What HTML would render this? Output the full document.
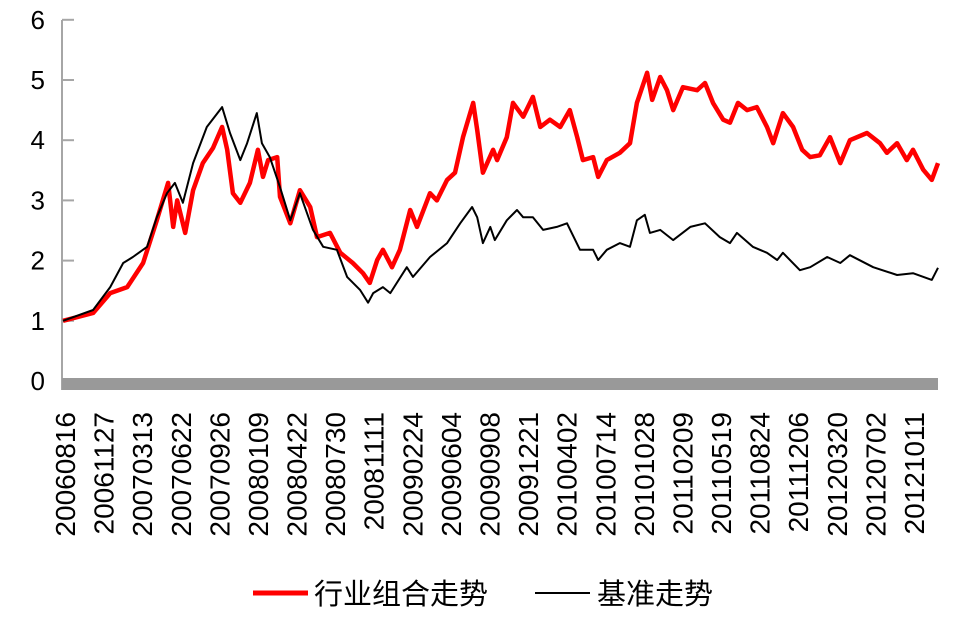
<!DOCTYPE html>
<html><head><meta charset="utf-8"><style>
html,body{margin:0;padding:0;background:#fff;}
svg{display:block;font-family:"Liberation Sans","Noto Sans CJK SC",sans-serif;}
</style></head><body>
<svg id="chart" width="960" height="618" viewBox="0 0 960 618" xmlns="http://www.w3.org/2000/svg">
<g id="axes"></g>
<g id="series"></g>
<g>
  <line x1="253" y1="593" x2="308" y2="593" stroke="#ff0000" stroke-width="5"/>
  <text x="314" y="604" font-size="29" fill="#000">行业组合走势</text>
  <line x1="535" y1="593" x2="590" y2="593" stroke="#000" stroke-width="2"/>
  <text x="597" y="604" font-size="29" fill="#000">基准走势</text>
</g>
</svg>
<script>
const xTickLabels = ["20060816","20061127","20070313","20070622","20070926","20080109","20080422","20080730","20081111","20090224","20090604","20090908","20091221","20100402","20100714","20101028","20110209","20110519","20110824","20111206","20120320","20120702","20121011"];
const yTicks = [0,1,2,3,4,5,6];
const totalDays = 1540;
const portfolioDays = [0,53,83,113,141,165,185,194,201,215,229,246,264,280,289,299,312,329,343,352,361,377,382,400,417,435,447,470,488,510,528,540,553,563,579,593,611,623,646,658,676,690,704,722,729,739,757,764,781,792,810,827,840,857,875,892,905,915,933,942,957,980,998,1010,1028,1037,1051,1063,1074,1091,1116,1130,1144,1162,1174,1188,1204,1221,1239,1250,1267,1285,1301,1315,1332,1350,1368,1385,1415,1438,1450,1468,1485,1496,1514,1529,1540];
const portfolioValues = [1.00,1.13,1.46,1.56,1.96,2.67,3.29,2.56,3.0,2.46,3.17,3.62,3.87,4.22,3.84,3.12,2.96,3.29,3.84,3.39,3.67,3.72,3.06,2.62,3.17,2.89,2.39,2.46,2.13,1.96,1.79,1.63,2.01,2.18,1.89,2.18,2.84,2.56,3.12,3.0,3.34,3.46,4.05,4.62,4.17,3.46,3.84,3.67,4.05,4.62,4.39,4.72,4.22,4.34,4.22,4.50,4.05,3.67,3.72,3.39,3.67,3.79,3.95,4.62,5.12,4.67,5.05,4.83,4.50,4.88,4.83,4.95,4.62,4.34,4.29,4.62,4.50,4.55,4.22,3.95,4.45,4.22,3.84,3.72,3.75,4.05,3.62,4.0,4.12,3.95,3.79,3.95,3.67,3.84,3.51,3.34,3.62];
const benchmarkDays = [0,53,83,106,123,148,165,183,197,211,229,253,280,294,312,324,341,350,364,382,400,417,440,458,482,500,523,537,546,563,576,605,616,646,676,699,720,729,739,752,760,781,799,810,827,845,869,887,910,933,942,957,980,998,1010,1024,1033,1051,1074,1104,1130,1156,1174,1186,1214,1239,1257,1267,1297,1315,1345,1368,1385,1426,1468,1496,1529,1540];
const benchmarkValues = [1.00,1.18,1.56,1.96,2.06,2.23,2.72,3.12,3.29,2.96,3.62,4.22,4.55,4.12,3.67,3.95,4.45,3.95,3.72,3.22,2.67,3.12,2.51,2.23,2.18,1.73,1.51,1.30,1.46,1.56,1.46,1.89,1.73,2.06,2.29,2.62,2.89,2.72,2.29,2.56,2.34,2.67,2.84,2.72,2.72,2.51,2.56,2.62,2.18,2.18,2.01,2.18,2.29,2.23,2.67,2.76,2.46,2.51,2.34,2.56,2.62,2.39,2.29,2.46,2.23,2.13,2.01,2.13,1.84,1.89,2.06,1.96,2.09,1.89,1.76,1.79,1.68,1.88];

const NS = "http://www.w3.org/2000/svg";
const X0 = 63, X1 = 938, Y0 = 381, YPER = 60.2;
function xScale(d){ return X0 + (X1 - X0) * d / totalDays; }
function yScale(v){ return Y0 - v * YPER; }
function mk(tag, attrs, parent){ const e = document.createElementNS(NS, tag); for (const k in attrs) e.setAttribute(k, attrs[k]); parent.appendChild(e); return e; }

const axes = document.getElementById('axes');
const yAxis = mk('line', {x1:62, y1:20, x2:62, y2:390, stroke:'#a6a6a6', 'stroke-width':2}, axes);


yTicks.forEach(v => {
  const y = yScale(v);
  if (v > 0) {
    const t = mk('line', {x1:62, y1:y, x2:74, y2:y, stroke:'#a6a6a6', 'stroke-width':2}, axes);
    
    
  }
  const lb = mk('text', {x:45, y:y + 9, 'font-size':26, 'text-anchor':'end', fill:'#000'}, axes);
  lb.textContent = v;
  
  
});
const floor = mk('rect', {x:62, y:378, width:876, height:12, fill:'#999999'}, axes);


const step = (914 - 65) / (xTickLabels.length - 1);
xTickLabels.forEach((s, i) => {
  const cx = 65 + i * step + 10;
  const t = mk('text', {x:cx, y:412, 'font-size':28, 'text-anchor':'end', fill:'#000', transform:'rotate(-90 ' + cx + ' 412)'}, axes);
  t.textContent = s;
  
  
});

const series = document.getElementById('series');
function pts(days, vals){ return days.map((d, i) => xScale(d).toFixed(1) + ',' + yScale(vals[i]).toFixed(1)).join(' '); }
const red = mk('polyline', {points:pts(portfolioDays, portfolioValues), fill:'none', stroke:'#ff0000', 'stroke-width':4.5, 'stroke-linejoin':'round'}, series);


const blk = mk('polyline', {points:pts(benchmarkDays, benchmarkValues), fill:'none', stroke:'#000', 'stroke-width':2, 'stroke-linejoin':'round'}, series);


</script>
</body></html>
